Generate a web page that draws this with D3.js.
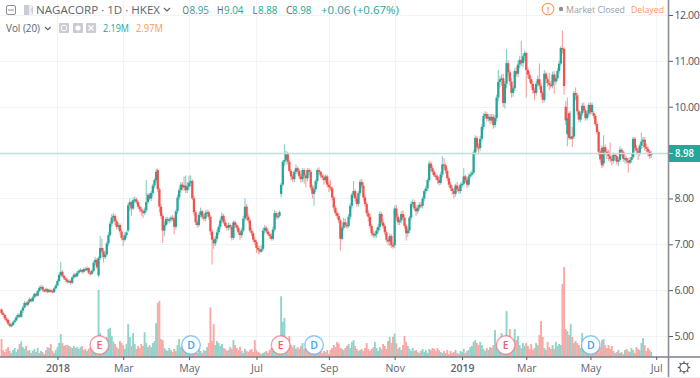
<!DOCTYPE html>
<html><head><meta charset="utf-8">
<script src="https://cdn.jsdelivr.net/npm/d3@7/dist/d3.min.js"></script>
<style>html,body{margin:0;padding:0;background:#fff}svg{display:block}text{font-family:"Open Sans",sans-serif}</style>
</head><body><svg id="c" width="700" height="378"><defs><filter id="soft" x="-5%" y="-5%" width="110%" height="110%"><feGaussianBlur stdDeviation="0.3"/></filter></defs></svg>
<script>
const opens=[
5.58,5.50,5.46,5.38,5.35,5.27,5.22,5.24,5.30,5.34,
5.41,5.46,5.42,5.55,5.62,5.72,5.68,5.74,5.80,5.76,
5.84,5.92,5.88,5.98,6.05,6.07,6.00,5.98,6.02,5.96,
6.00,5.98,5.96,6.04,6.10,6.20,6.33,6.40,6.31,6.26,
6.22,6.18,6.20,6.16,6.28,6.34,6.30,6.38,6.42,6.44,
6.40,6.46,6.44,6.48,6.38,6.36,6.42,6.60,6.66,6.32,
6.70,6.92,6.85,6.72,6.78,7.02,7.20,7.45,7.58,7.62,
7.50,7.38,7.42,7.28,7.14,7.10,7.20,7.30,7.85,7.92,
7.78,7.96,7.98,7.92,7.82,7.76,7.72,7.68,7.74,7.92,
8.08,8.00,8.12,8.28,8.40,8.62,8.20,7.82,7.62,7.30,
7.42,7.55,7.52,7.54,7.58,7.56,7.38,7.72,8.02,8.18,
8.30,8.24,8.28,8.18,8.26,8.34,8.38,8.00,7.70,7.48,
7.42,7.64,7.72,7.60,7.56,7.68,7.70,7.60,7.28,7.10,
7.02,7.12,7.26,7.38,7.52,7.62,7.48,7.40,7.36,7.42,
7.38,7.14,7.48,7.42,7.36,7.26,7.20,7.30,7.56,7.82,
7.60,7.52,7.30,7.24,7.10,7.05,6.92,6.88,6.84,6.90,
7.30,7.36,7.28,7.22,7.18,7.12,7.32,7.68,7.60,7.62,
8.10,8.30,8.80,8.84,8.98,8.80,8.60,8.48,8.42,8.58,
8.66,8.60,8.48,8.42,8.62,8.50,8.44,8.62,8.58,8.24,
8.10,8.20,8.38,8.62,8.58,8.50,8.46,8.40,8.48,8.30,
8.25,8.22,8.02,7.80,7.68,7.62,7.52,7.12,7.36,7.48,
7.42,7.40,7.60,7.84,8.08,8.16,8.00,7.88,8.12,8.36,
8.28,8.02,7.88,7.68,7.60,7.40,7.24,7.20,7.22,7.30,
7.38,7.66,7.48,7.40,7.26,7.10,7.06,7.18,6.98,6.98,
7.78,7.60,7.48,7.52,7.66,7.58,7.40,7.24,7.30,7.58,
7.88,7.92,7.78,7.72,7.80,7.86,7.84,8.00,8.16,8.22,
8.40,8.76,8.66,8.58,8.50,8.48,8.40,8.34,8.52,8.74,
8.72,8.60,8.44,8.30,8.22,8.16,8.10,8.28,8.20,8.16,
8.30,8.32,8.48,8.40,8.30,8.48,8.52,8.56,9.00,9.32,
9.12,9.10,9.30,9.56,9.80,9.84,9.74,9.78,9.70,9.78,
9.60,9.75,10.20,10.54,10.60,10.62,10.08,10.50,10.95,10.75,
10.55,10.30,10.40,10.78,10.72,10.92,11.02,10.95,11.10,11.17,
10.80,10.70,10.60,10.50,10.36,10.30,10.50,10.60,10.46,10.30,
10.15,10.72,10.60,10.52,10.48,10.46,10.70,10.55,10.62,10.78,
10.94,11.28,11.26,10.00,9.40,9.86,9.32,9.36,9.35,10.30,
10.25,9.90,9.72,9.85,10.02,9.92,9.75,9.85,10.04,9.88,
9.86,9.80,9.62,9.45,9.02,9.10,8.76,9.12,9.02,9.00,
8.92,8.86,8.82,8.95,8.92,8.80,8.84,9.06,9.02,8.86,
8.88,8.82,8.78,8.84,8.90,9.30,9.10,9.04,8.98,9.15,
9.24,9.28,9.12,9.08,9.02,8.95];
const closes=[
5.50,5.46,5.38,5.34,5.27,5.22,5.24,5.30,5.34,5.41,
5.46,5.42,5.55,5.62,5.72,5.68,5.74,5.80,5.76,5.84,
5.92,5.88,5.98,6.05,6.07,6.00,5.98,6.02,5.96,6.00,
5.98,5.96,6.04,6.10,6.20,6.33,6.40,6.31,6.26,6.22,
6.18,6.20,6.16,6.28,6.34,6.30,6.38,6.42,6.44,6.40,
6.46,6.44,6.48,6.38,6.36,6.42,6.60,6.66,6.50,6.70,
6.92,6.85,6.72,6.78,7.02,7.20,7.45,7.58,7.62,7.50,
7.38,7.42,7.28,7.14,7.10,7.20,7.26,7.85,7.92,7.78,
7.96,7.98,7.92,7.82,7.76,7.72,7.68,7.74,7.92,8.08,
8.00,8.12,8.28,8.40,8.58,8.20,7.82,7.62,7.30,7.42,
7.55,7.52,7.54,7.58,7.56,7.38,7.72,8.02,8.18,8.30,
8.24,8.28,8.18,8.26,8.34,8.38,8.00,7.70,7.48,7.42,
7.64,7.72,7.60,7.56,7.68,7.70,7.60,7.28,7.10,7.02,
7.12,7.26,7.38,7.52,7.62,7.48,7.40,7.36,7.42,7.38,
7.14,7.48,7.42,7.36,7.26,7.20,7.30,7.56,7.82,7.60,
7.52,7.30,7.24,7.10,7.05,6.92,6.88,6.84,6.90,7.30,
7.36,7.28,7.22,7.18,7.12,7.32,7.68,7.60,7.62,7.70,
8.30,8.80,8.84,8.98,8.80,8.60,8.48,8.42,8.58,8.66,
8.60,8.48,8.42,8.62,8.50,8.44,8.62,8.58,8.24,8.10,
8.20,8.38,8.62,8.58,8.50,8.46,8.40,8.48,8.30,8.25,
8.22,8.02,7.80,7.68,7.62,7.52,7.12,7.36,7.48,7.42,
7.40,7.60,7.84,8.08,8.16,8.00,7.88,8.12,8.36,8.28,
8.02,7.88,7.68,7.60,7.40,7.24,7.20,7.22,7.30,7.38,
7.66,7.48,7.40,7.26,7.10,7.06,7.18,6.98,6.95,7.78,
7.60,7.48,7.52,7.66,7.58,7.40,7.24,7.30,7.58,7.88,
7.92,7.78,7.72,7.80,7.86,7.84,8.00,8.16,8.22,8.40,
8.76,8.66,8.58,8.50,8.48,8.40,8.34,8.52,8.74,8.72,
8.60,8.44,8.30,8.22,8.16,8.10,8.28,8.20,8.16,8.30,
8.32,8.48,8.40,8.30,8.48,8.52,8.56,9.00,9.32,9.12,
9.10,9.30,9.56,9.80,9.84,9.74,9.78,9.70,9.78,9.60,
9.75,10.20,10.54,10.60,10.62,10.08,10.50,10.95,10.75,10.55,
10.30,10.40,10.78,10.72,10.92,11.02,10.95,11.10,11.17,10.80,
10.70,10.60,10.50,10.36,10.30,10.50,10.60,10.46,10.30,10.15,
10.72,10.60,10.52,10.48,10.46,10.70,10.55,10.62,10.78,10.94,
11.28,11.25,10.45,9.70,9.75,9.32,9.34,9.30,10.30,10.25,
9.90,9.72,9.85,10.02,9.92,9.75,9.85,10.04,9.88,10.04,
9.80,9.62,9.45,9.02,8.85,8.72,9.12,9.02,9.00,8.92,
8.86,8.82,8.95,8.92,8.80,8.84,9.06,9.02,8.86,8.88,
8.82,8.78,8.84,8.90,9.30,9.10,9.04,8.98,9.15,9.24,
9.28,9.12,9.08,9.02,8.92,8.98];
const highs=[
5.60,5.54,5.48,5.42,5.38,5.30,5.28,5.33,5.38,5.46,
5.50,5.49,5.58,5.66,5.76,5.75,5.78,5.84,5.83,5.88,
5.95,5.94,6.01,6.09,6.12,6.10,6.03,6.05,6.04,6.03,
6.03,6.01,6.07,6.14,6.24,6.38,6.62,6.44,6.34,6.30,
6.26,6.24,6.23,6.31,6.38,6.37,6.42,6.46,6.48,6.46,
6.49,6.50,6.52,6.50,6.42,6.46,6.64,6.72,6.70,6.74,
7.18,7.12,6.92,6.84,7.06,7.26,7.50,7.66,7.68,7.66,
7.55,7.48,7.46,7.32,7.20,7.26,7.30,7.90,8.00,7.95,
8.02,8.04,8.02,7.96,7.86,7.82,7.78,7.80,8.40,8.12,
8.12,8.16,8.32,8.44,8.64,8.66,8.24,7.88,7.66,7.50,
7.60,7.60,7.58,7.62,7.64,7.60,7.76,8.08,8.24,8.36,
8.36,8.48,8.50,8.36,8.50,8.50,8.42,8.06,7.74,7.54,
7.68,7.80,7.76,7.66,7.74,7.76,7.74,7.64,7.34,7.16,
7.18,7.32,7.42,7.58,7.70,7.66,7.54,7.46,7.48,7.46,
7.42,7.52,7.52,7.46,7.40,7.32,7.36,7.62,8.00,7.88,
7.66,7.56,7.36,7.28,7.16,7.10,6.98,6.96,6.98,7.36,
7.42,7.40,7.34,7.26,7.24,7.38,7.74,7.72,7.68,7.74,
8.34,8.84,9.18,9.04,9.02,8.84,8.64,8.54,8.62,8.74,
8.70,8.64,8.54,8.66,8.66,8.54,8.66,8.66,8.62,8.30,
8.28,8.42,8.66,8.68,8.60,8.54,8.52,8.52,8.52,8.36,
8.40,8.26,8.06,7.84,7.72,7.68,7.56,7.40,7.58,7.56,
7.48,7.66,7.90,8.12,8.38,8.20,8.06,8.16,8.42,8.42,
8.34,8.08,7.92,7.74,7.66,7.44,7.30,7.28,7.36,7.44,
7.72,7.70,7.54,7.44,7.30,7.14,7.24,7.22,7.04,7.84,
7.86,7.66,7.56,7.72,7.74,7.64,7.44,7.36,7.62,7.94,
7.98,7.96,7.84,7.86,7.92,7.92,8.04,8.20,8.28,8.44,
8.82,8.80,8.72,8.62,8.56,8.52,8.46,8.58,8.92,8.88,
8.78,8.66,8.48,8.36,8.28,8.22,8.32,8.36,8.26,8.34,
8.38,8.66,8.52,8.44,8.54,8.58,8.62,9.06,9.38,9.36,
9.20,9.36,9.62,9.86,9.90,9.88,9.84,9.84,9.84,9.84,
9.82,10.26,10.80,10.68,10.70,10.72,10.56,11.26,11.02,10.80,
10.62,10.46,10.84,10.88,11.00,11.10,11.44,11.16,11.22,11.20,
10.86,10.76,10.66,10.56,10.42,10.56,10.68,10.95,10.52,10.34,
10.80,10.76,10.66,10.74,10.56,10.76,10.78,10.70,10.84,11.00,
11.32,11.66,11.30,10.12,10.20,9.90,9.90,9.56,10.34,10.42,
10.30,9.94,9.90,10.08,10.10,9.96,9.92,10.08,10.10,10.10,
9.90,9.84,9.68,9.48,9.06,9.16,9.38,9.18,9.08,9.06,
9.22,8.94,9.00,8.98,8.96,8.90,9.14,9.10,9.04,8.96,
8.92,8.88,8.90,8.98,9.34,9.34,9.16,9.10,9.20,9.44,
9.34,9.34,9.20,9.14,9.06,9.04];
const lows=[
5.46,5.42,5.34,5.30,5.24,5.18,5.20,5.22,5.27,5.32,
5.38,5.39,5.40,5.50,5.60,5.64,5.65,5.71,5.73,5.74,
5.82,5.85,5.86,5.95,6.02,5.97,5.95,5.95,5.93,5.94,
5.95,5.93,5.94,6.01,6.08,6.17,6.28,6.28,6.22,6.18,
6.14,6.15,6.12,6.14,6.25,6.27,6.28,6.35,6.39,6.36,
6.37,6.41,6.41,6.35,6.32,6.33,6.39,6.55,6.46,6.28,
6.66,6.80,6.60,6.68,6.74,6.96,7.16,7.38,7.48,7.42,
7.32,7.32,7.22,7.08,6.96,7.06,7.14,7.26,7.72,7.62,
7.74,7.90,7.88,7.78,7.70,7.62,7.58,7.64,7.70,7.88,
7.96,7.94,8.06,8.22,8.34,8.14,7.70,7.56,7.03,7.18,
7.38,7.44,7.46,7.48,7.50,7.22,7.32,7.66,7.96,8.12,
8.18,8.16,8.12,8.12,8.20,8.26,7.96,7.62,7.42,7.36,
7.38,7.58,7.54,7.50,7.50,7.60,7.54,7.20,6.56,6.90,
6.96,7.06,7.20,7.32,7.46,7.44,7.36,7.30,7.30,7.32,
7.08,7.10,7.36,7.30,7.20,7.10,7.14,7.26,7.50,7.52,
7.46,7.26,7.18,7.04,6.98,6.82,6.78,6.78,6.82,6.86,
7.24,7.24,7.18,7.12,7.08,7.08,7.28,7.54,7.54,7.58,
8.02,8.26,8.70,8.74,8.74,8.56,8.40,8.36,8.36,8.52,
8.54,8.42,8.34,8.36,8.32,8.24,8.38,8.50,8.18,8.00,
7.84,8.14,8.32,8.52,8.44,8.40,8.30,8.34,8.24,8.14,
8.16,7.96,7.72,7.62,7.56,7.46,6.86,7.08,7.30,7.36,
7.34,7.36,7.54,7.78,8.02,7.94,7.82,7.82,8.06,8.22,
7.94,7.82,7.62,7.50,7.34,7.18,7.14,7.14,7.14,7.24,
7.30,7.42,7.34,7.20,7.04,6.98,6.96,6.92,6.90,6.92,
7.52,7.42,7.42,7.46,7.52,7.34,7.08,7.16,7.24,7.52,
7.82,7.72,7.62,7.66,7.74,7.78,7.78,7.94,8.10,8.16,
8.36,8.60,8.52,8.46,8.40,8.32,8.28,8.30,8.46,8.64,
8.54,8.38,8.24,8.16,8.08,8.00,8.04,8.14,8.10,8.10,
8.24,8.28,8.34,8.22,8.26,8.44,8.48,8.52,8.94,9.04,
8.96,9.04,9.24,9.50,9.74,9.68,9.68,9.62,9.64,9.52,
9.54,9.68,10.12,10.42,10.46,10.00,9.96,10.40,10.66,10.46,
10.20,10.22,10.34,10.66,10.64,10.84,10.88,10.86,11.00,10.20,
10.62,10.52,10.42,10.28,10.14,10.24,10.44,10.38,10.22,10.08,
10.10,10.50,10.44,10.36,10.40,10.40,10.28,10.48,10.56,10.72,
10.90,11.16,10.26,9.60,9.14,9.28,9.28,9.12,9.30,10.14,
9.82,9.66,9.66,9.80,9.88,9.70,9.70,9.78,9.82,9.84,
9.74,9.58,9.40,8.94,8.78,8.66,8.70,8.94,8.86,8.82,
8.78,8.72,8.76,8.82,8.74,8.70,8.80,8.92,8.80,8.76,
8.76,8.56,8.74,8.78,8.86,9.02,8.96,8.84,8.92,9.08,
9.10,9.04,9.00,8.92,8.86,8.88];
const volumes=[
8.0,3.1,2.2,3.6,4.4,2.7,1.8,3.1,4.0,2.2,
3.5,5.8,6.9,4.4,3.6,4.9,2.7,3.1,1.8,2.7,
3.6,2.2,4.0,1.8,2.7,2.2,1.3,3.1,4.4,4.0,
5.8,2.7,1.8,3.1,4.4,6.2,10.2,6.2,4.9,5.3,
5.3,4.9,4.4,4.0,4.9,4.0,4.4,3.6,4.4,4.9,
3.1,3.6,2.7,3.6,4.4,3.1,5.3,4.0,6.2,29.9,
10.6,8.0,7.1,5.3,8.9,12.4,13.0,9.3,6.9,5.8,
4.4,3.6,7.1,6.2,5.3,3.6,5.8,14.6,8.9,4.9,
10.6,5.8,3.6,4.9,4.0,5.8,4.9,11.0,6.2,4.4,
5.3,4.4,6.2,7.1,15.0,24.0,25.0,8.0,7.5,4.0,
3.1,2.7,4.0,3.1,2.2,3.6,2.7,5.3,8.0,4.4,
5.8,3.6,4.4,2.7,3.6,5.3,2.7,2.2,3.1,1.8,
3.6,2.7,1.8,3.1,2.7,4.4,6.2,22.0,7.1,14.6,
5.3,7.1,6.2,4.9,5.8,4.0,3.6,2.7,3.1,4.4,
3.6,7.5,5.3,4.0,3.1,4.4,2.7,1.8,3.6,2.7,
2.2,3.1,3.6,2.2,7.5,3.1,2.2,1.8,1.3,1.8,
2.2,2.7,1.8,3.1,4.0,5.3,4.4,5.8,4.9,6.2,
27.0,15.6,17.3,8.9,7.1,9.3,5.3,4.4,5.3,3.6,
4.4,3.6,4.9,6.2,3.6,4.0,5.8,3.1,2.7,4.0,
3.6,2.7,2.2,3.6,2.7,1.8,2.7,2.2,3.1,1.3,
3.1,4.0,5.3,4.4,6.7,6.0,4.0,3.6,3.1,4.0,
4.9,5.8,4.0,6.7,7.5,4.9,3.6,2.7,3.1,3.6,
2.7,4.0,6.2,3.6,2.7,3.6,4.4,6.7,4.0,2.7,
4.4,3.6,5.8,4.9,3.6,7.1,8.9,6.2,9.0,10.4,
6.2,3.6,4.4,3.1,5.3,9.3,6.7,4.9,3.6,2.7,
4.0,2.7,3.1,2.2,1.8,2.7,3.6,2.2,3.1,1.8,
3.6,3.1,4.0,3.6,2.7,4.0,3.1,2.2,1.8,2.7,
1.8,3.1,1.3,2.7,1.8,2.2,3.1,1.8,1.3,2.7,
2.2,3.6,1.8,2.7,3.1,4.4,4.9,6.7,7.5,6.2,
5.3,6.7,5.3,3.6,2.7,4.0,3.1,4.4,4.0,5.3,
12.0,6.2,5.3,4.4,10.6,7.1,5.8,20.4,9.3,12.4,
7.1,5.3,12.4,7.5,9.3,5.3,4.0,6.2,4.9,6.2,
4.9,3.6,5.8,3.1,4.0,6.2,5.3,9.8,16.0,8.9,
4.0,3.1,6.7,4.4,3.6,5.3,3.6,6.7,4.9,5.8,
5.3,32.4,40.0,12.4,11.5,9.8,14.6,8.9,6.2,7.1,
6.2,5.3,4.0,10.6,7.1,5.3,4.4,6.2,3.6,5.8,
5.3,3.6,6.2,3.1,4.4,7.5,8.0,5.3,4.0,5.3,
3.6,4.9,2.7,1.8,2.2,3.1,1.8,2.2,1.3,3.1,
3.6,2.7,2.2,4.0,3.1,1.8,4.4,3.6,3.1,6.2,
8.4,5.3,2.7,4.0,3.1,2.19];
const priceTicks=[5,6,7,8,10,11,12];
const gridPrices=[5,6,7,8,9,10,11,12];
const timeTickIndex=[34,74,114,155,199,239,280,319,358,398];
const timeTickLabels=["2018","Mar","May","Jul","Sep","Nov","2019","Mar","May","Jul"];
const earningsIndex=[59.5,169.7,306.5];
const dividendIndex=[115.2,190,358.2];
const lastPrice=8.98;

const UP="#26a69a",DOWN="#ef5350",UPV="#8fd3cb",DOWNV="#f9a8a5";
const W=669,H=357;
const svg=d3.select("#c");
const x=d3.scaleLinear().domain([0,398]).range([1.5,656.2]);
const y=d3.scaleLinear().domain([5,12]).range([336,15]);
const vy=d3.scaleLinear().domain([0,40]).range([357,267]);
const grid=svg.append("g");
grid.selectAll("line.h").data(gridPrices).join("line").attr("class","h").attr("x1",0).attr("x2",W).attr("y1",d=>Math.round(y(d))+.5).attr("y2",d=>Math.round(y(d))+.5).attr("stroke","#eff4f8");
grid.selectAll("line.v").data(timeTickIndex).join("line").attr("class","v").attr("y1",0).attr("y2",H).attr("x1",d=>Math.round(x(d))+.5).attr("x2",d=>Math.round(x(d))+.5).attr("stroke","#eff4f8");
const marks=svg.append("g").attr("filter","url(#soft)");
// volume
marks.append("g").selectAll("rect").data(volumes).join("rect")
 .attr("x",(d,i)=>x(i)-.95).attr("width",1.9).attr("y",d=>vy(d)).attr("height",d=>357-vy(d))
 .attr("fill",(d,i)=>closes[i]>=opens[i]?UPV:DOWNV);
// last price
svg.append("line").attr("x1",0).attr("x2",W).attr("y1",y(lastPrice)).attr("y2",y(lastPrice)).attr("stroke","#bfe0dc").attr("stroke-width",1.4);
// candles
const cg=marks.append("g");
cg.selectAll("line").data(closes).join("line")
 .attr("x1",(d,i)=>x(i)).attr("x2",(d,i)=>x(i)).attr("y1",(d,i)=>y(highs[i])).attr("y2",(d,i)=>y(lows[i]))
 .attr("stroke",(d,i)=>closes[i]>=opens[i]?UP:DOWN).attr("stroke-width",1.1).attr("stroke-opacity",.55);
cg.selectAll("rect").data(closes).join("rect")
 .attr("x",(d,i)=>x(i)-1.15).attr("width",2.3)
 .attr("y",(d,i)=>y(Math.max(opens[i],closes[i])))
 .attr("height",(d,i)=>Math.max(1.5,Math.abs(y(opens[i])-y(closes[i]))))
 .attr("fill",(d,i)=>closes[i]>=opens[i]?UP:DOWN);
// axes frame
svg.append("line").attr("x1",0).attr("x2",700).attr("y1",357).attr("y2",357).attr("stroke","#7a7f89").attr("stroke-width",1.5);
svg.append("line").attr("x1",668.5).attr("x2",668.5).attr("y1",0).attr("y2",378).attr("stroke","#8a8e97").attr("stroke-width",1.6);
svg.append("line").attr("x1",0).attr("x2",700).attr("y1",377.5).attr("y2",377.5).attr("stroke","#eceef2");
const xa=d3.axisBottom(x).tickValues(timeTickIndex).tickSize(3).tickFormat((d,i)=>timeTickLabels[i]);
const xg=svg.append("g").attr("transform","translate(0,357)").call(xa);
xg.select(".domain").remove();
xg.selectAll("line").attr("stroke","#555b66");
xg.selectAll("text").attr("y",8).attr("dy",".71em").attr("font-size",10.5).attr("fill","#5d6470").attr("stroke","none")
 .attr("font-weight",(d,i)=>/\d/.test(timeTickLabels[i])?600:400);
const ya=d3.axisRight(y).tickValues(priceTicks).tickSize(4).tickFormat(d3.format(".2f"));
const yg=svg.append("g").attr("transform","translate(669,0)").call(ya);
yg.select(".domain").remove();
yg.selectAll("line").attr("stroke","#555b66");
yg.selectAll("text").attr("x",5.5).attr("font-size",10.5).attr("letter-spacing",-0.4).attr("fill","#4c525e");
// last price badge
const bY=y(lastPrice);
svg.append("rect").attr("x",669).attr("y",bY-8.5).attr("width",31).attr("height",17).attr("fill",UP);
svg.append("line").attr("x1",669).attr("x2",673).attr("y1",bY).attr("y2",bY).attr("stroke","#bfe0dc");
svg.append("text").attr("x",675).attr("y",bY+4).attr("font-size",10.5).attr("font-weight",600).attr("fill","#fff").attr("textLength",19).attr("lengthAdjust","spacingAndGlyphs").text(lastPrice.toFixed(2));
// event markers
function marker(i,letter,col){
 const g=svg.append("g").attr("transform",`translate(${x(i)},345)`);
 g.append("circle").attr("r",9.3).attr("fill","#fff").attr("stroke",col).attr("stroke-opacity",.6).attr("stroke-width",1.4);
 g.append("text").attr("text-anchor","middle").attr("y",4).attr("font-size",10.5).attr("font-weight",600).attr("fill",col).text(letter);
}
earningsIndex.forEach(d=>marker(d,"E","#ef5f6d"));
dividendIndex.forEach(d=>marker(d,"D","#3da5f4"));
// header
function t(xp,yp,s,fill,size,len,weight,anchor){
 const e=svg.append("text").attr("x",xp).attr("y",yp).attr("font-size",size||11.5).attr("font-weight",weight||400).attr("fill",fill).attr("text-anchor",anchor||"start").text(s);
 if(len) e.attr("textLength",len).attr("lengthAdjust","spacingAndGlyphs");
 return e;
}
svg.append("rect").attr("x",6.5).attr("y",5.5).attr("width",9).attr("height",9).attr("rx",1.5).attr("fill","#fff").attr("stroke","#8a8f99").attr("stroke-width",1);
svg.append("line").attr("x1",8).attr("x2",14).attr("y1",10).attr("y2",10).attr("stroke","#8a8f99");
svg.append("path").attr("d","M24 5h9v10h-9z").attr("fill","#c9ccd3");
svg.append("path").attr("d","M29 5h4l-2 5 2 5h-4z").attr("fill","#eceef2");
t(36,14,"NAGACORP · 1D · HKEX","#5d6470",11.5,124);
svg.append("path").attr("d","M164 8l3 3 3-3").attr("fill","none").attr("stroke","#5d6470").attr("stroke-width",1.2);
const ohlcLabels=["O","H","L","C"],ohlcValues=["8.95","9.04","8.88","8.98"],ohlcLabelX=[182.5,217,252.5,286],ohlcValueX=[189.5,224,258,292];
ohlcLabels.forEach((l,i)=>{t(ohlcLabelX[i],14,l,"#5d6470",10,i===2?5:6.5);t(ohlcValueX[i],14,ohlcValues[i],UP,10.5,19.5);});
t(321,14,"+0.06 (+0.67%)",UP,10.5,78);
t(6,32,"Vol (20)","#5d6470",10.5,34);
svg.append("path").attr("d","M45 27l2.8 2.6 2.8-2.6").attr("fill","none").attr("stroke","#5d6470").attr("stroke-width",1.2);
[59,73,86].forEach(p=>svg.append("rect").attr("x",p).attr("y",23).attr("width",10).attr("height",10).attr("rx",1).attr("fill","#c9ccd3"));
svg.append("circle").attr("cx",64).attr("cy",28).attr("r",2.8).attr("fill","none").attr("stroke","#fff");
svg.append("circle").attr("cx",78).attr("cy",28).attr("r",2.6).attr("fill","#fff");
svg.append("path").attr("d","M88.5 25.5l5 5m0-5l-5 5").attr("stroke","#fff").attr("stroke-width",1.4);
t(103,32,"2.19M",UP,10.5,26);
t(136,32,"2.97M","#ff9a4d",10.5,27);
// status
svg.append("circle").attr("cx",548).attr("cy",9).attr("r",5.8).attr("fill","#fff").attr("stroke","#ff9a4d").attr("stroke-width",1.1);
t(548,12.5,"!","#ff9a4d",9.5,null,600,"middle");
svg.append("circle").attr("cx",561).attr("cy",9).attr("r",2.2).attr("fill","#8a8f99");
t(566,12.5,"Market Closed","#9a9ea7",8.5,59);
t(631,12.5,"Delayed","#ff9a4d",9.5,33);
// gear
const gg=svg.append("g").attr("transform","translate(684,367.5)");
gg.append("circle").attr("r",4.2).attr("fill","none").attr("stroke","#4c525e").attr("stroke-width",1.1);
d3.range(8).forEach(k=>gg.append("line").attr("x1",0).attr("x2",0).attr("y1",-4.2).attr("y2",-6.2).attr("stroke","#4c525e").attr("stroke-width",1.2).attr("transform",`rotate(${k*45})`));
</script></body></html>
